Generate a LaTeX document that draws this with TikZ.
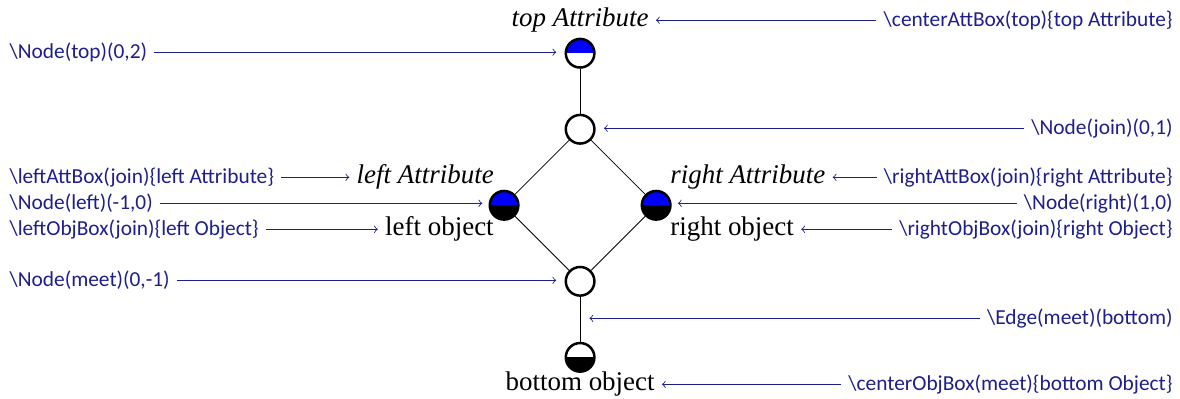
\documentclass[tikz,border=0pt]{standalone}
\usepackage{fontspec}
\setmainfont{Liberation Serif}
\newfontfamily\codefont{Carlito}
\definecolor{navycode}{RGB}{30,30,140}
\tikzset{
  lat/.style={circle, draw, line width=1.2pt, minimum size=0.485cm, inner sep=0pt, fill=white},
  attnode/.style={lat, path picture={\fill[blue] (path picture bounding box.center) ++(-0.4cm,0) rectangle ++(0.8cm,0.4cm);}},
  objnode/.style={lat, path picture={\fill[black] (path picture bounding box.center) ++(-0.4cm,0) rectangle ++(0.8cm,-0.4cm);}},
  fullnode/.style={lat, path picture={\fill[blue] (path picture bounding box.center) ++(-0.4cm,0) rectangle ++(0.8cm,0.4cm);
      \fill[black] (path picture bounding box.center) ++(-0.4cm,0) rectangle ++(0.8cm,-0.4cm);}},
  lattext/.style={font=\fontsize{13}{15}\selectfont},
  codelbl/.style={text=navycode, font=\codefont\fontsize{10.3}{12}\selectfont},
  pointer/.style={->, draw=navycode, thin},
}
\begin{document}
\begin{tikzpicture}[x=1.288cm, y=1.288cm]
\useasboundingbox (-7.63,-2.54) rectangle (7.89,2.70);

% lattice
\node[attnode] (top) at (0,2) {};
\node[lat] (join) at (0,1) {};
\node[fullnode] (left) at (-1,0) {};
\node[fullnode] (right) at (1,0) {};
\node[lat] (meet) at (0,-1) {};
\node[objnode] (bottom) at (0,-2) {};
\draw[thin] (top) -- (join);
\draw[thin] (join) -- (left);
\draw[thin] (join) -- (right);
\draw[thin] (left) -- (meet);
\draw[thin] (right) -- (meet);
\draw[thin] (meet) -- (bottom);
\coordinate (edgept) at (0,-1.49);

% labels
\node[lattext, font=\itshape\fontsize{13}{15}\selectfont] (topatt) at (0,2.434) {top Attribute};
\node[lattext, font=\itshape\fontsize{13}{15}\selectfont, anchor=east] (leftatt) at (-1.04,0.368) {left Attribute};
\node[lattext, anchor=east] (leftobj) at (-1.04,-0.316) {left object};
\node[lattext, font=\itshape\fontsize{13}{15}\selectfont, anchor=west] (rightatt) at (1.09,0.368) {right Attribute};
\node[lattext, anchor=west] (rightobj) at (1.09,-0.316) {right object};
\node[lattext] (botobj) at (0,-2.355) {bottom object};

% commands, left side
\node[codelbl, anchor=west] (ctop) at (-7.6,2.013) {\textbackslash Node(top)(0,2)};
\node[codelbl, anchor=west] (cleftatt) at (-7.6,0.368) {\textbackslash leftAttBox(join)\{left Attribute\}};
\node[codelbl, anchor=west] (cleft) at (-7.6,0.026) {\textbackslash Node(left)(-1,0)};
\node[codelbl, anchor=west] (cleftobj) at (-7.6,-0.316) {\textbackslash leftObjBox(join)\{left Object\}};
\node[codelbl, anchor=west] (cmeet) at (-7.6,-0.987) {\textbackslash Node(meet)(0,-1)};

% commands, right side
\node[codelbl, anchor=east] (ctopatt) at (7.89,2.434) {\textbackslash centerAttBox(top)\{top Attribute\}};
\node[codelbl, anchor=east] (cjoin) at (7.89,1.013) {\textbackslash Node(join)(0,1)};
\node[codelbl, anchor=east] (crightatt) at (7.89,0.368) {\textbackslash rightAttBox(join)\{right Attribute\}};
\node[codelbl, anchor=east] (cright) at (7.89,0.026) {\textbackslash Node(right)(1,0)};
\node[codelbl, anchor=east] (crightobj) at (7.89,-0.316) {\textbackslash rightObjBox(join)\{right Object\}};
\node[codelbl, anchor=east] (cedge) at (7.89,-1.487) {\textbackslash Edge(meet)(bottom)};
\node[codelbl, anchor=east] (cbotobj) at (7.89,-2.355) {\textbackslash centerObjBox(meet)\{bottom Object\}};

% pointers
\draw[pointer, shorten >=4pt] (ctop.east) -- (ctop.east -| top.west);
\draw[pointer] (cleftatt.east) -- (leftatt.west |- cleftatt.east);
\draw[pointer, shorten >=3pt] (cleft.east) -- (cleft.east -| left.west);
\draw[pointer] (cleftobj.east) -- (leftobj.west |- cleftobj.east);
\draw[pointer, shorten >=4pt] (cmeet.east) -- (cmeet.east -| meet.west);
\draw[pointer] (ctopatt.west) -- (topatt.east |- ctopatt.west);
\draw[pointer, shorten >=4pt] (cjoin.west) -- (cjoin.west -| join.east);
\draw[pointer] (crightatt.west) -- (rightatt.east |- crightatt.west);
\draw[pointer, shorten >=3pt] (cright.west) -- (cright.west -| right.east);
\draw[pointer] (crightobj.west) -- (rightobj.east |- crightobj.west);
\draw[pointer, shorten >=4.5pt] (cedge.west) -- (cedge.west -| edgept);
\draw[pointer] (cbotobj.west) -- (botobj.east |- cbotobj.west);

\end{tikzpicture}
\end{document}
